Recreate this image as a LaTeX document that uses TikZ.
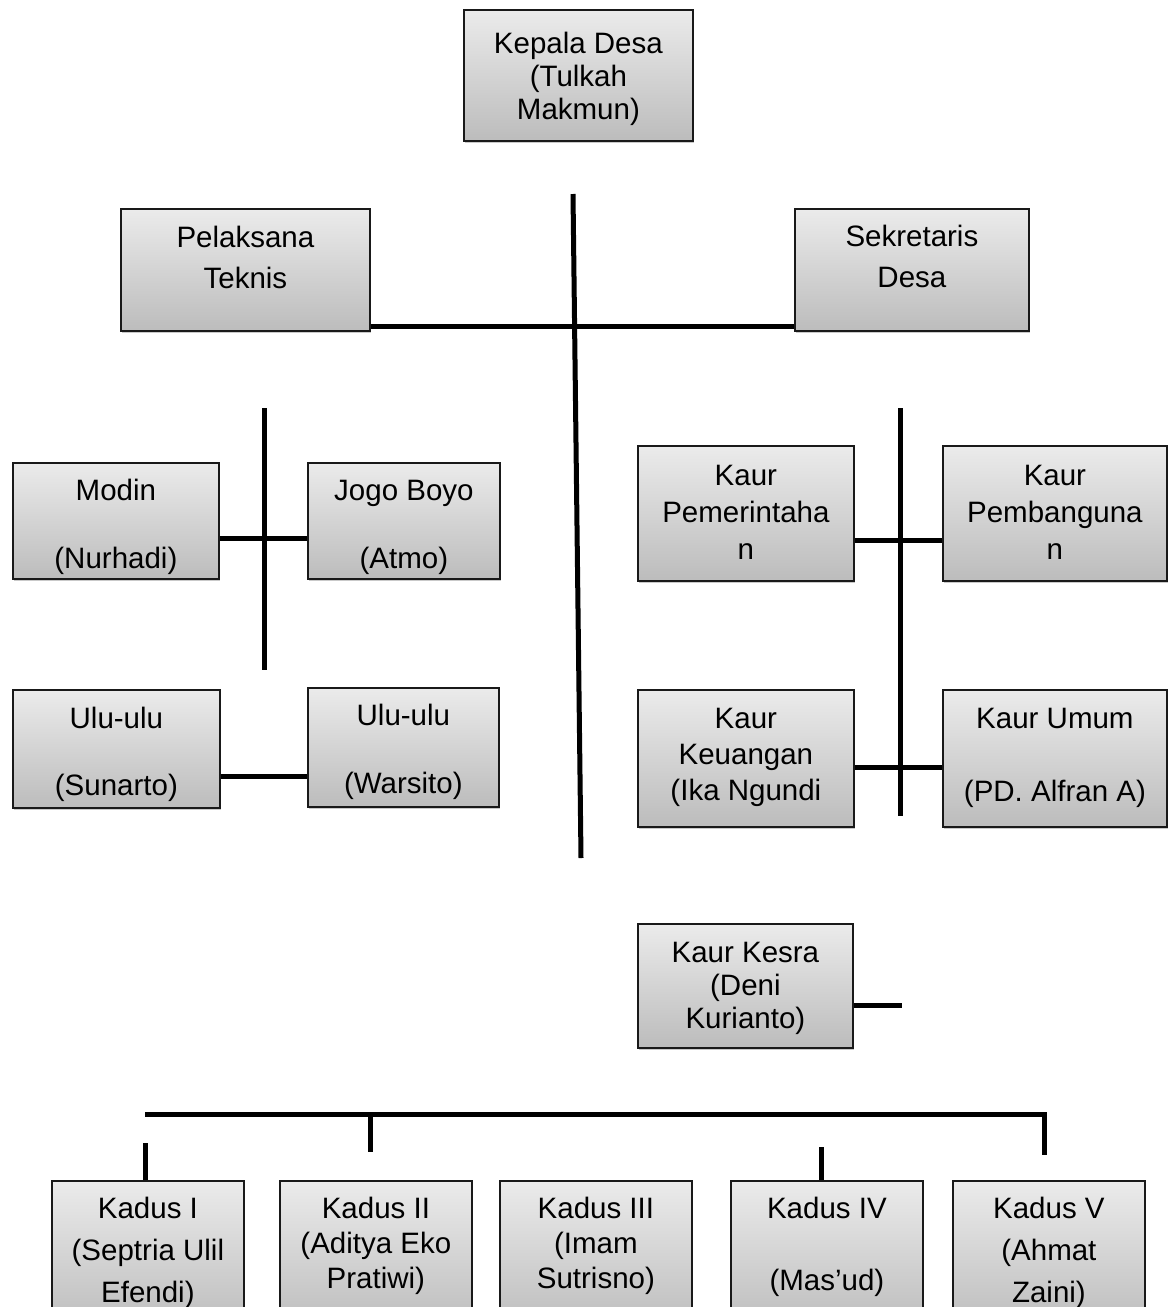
\documentclass[tikz,border=0pt]{standalone}
\usepackage{fontspec}
\setmainfont{Liberation Sans}
\usetikzlibrary{shadows}
\definecolor{boxtop}{HTML}{EBEBEB}
\definecolor{boxbot}{HTML}{BCBCBC}
\tikzset{
  orgbox/.style={draw=black!90, line width=1.8pt, top color=boxtop, bottom color=boxbot,
    anchor=north west, inner sep=0pt,
    drop shadow={shadow xshift=1.5pt, shadow yshift=-2.5pt, opacity=0.35, fill=black!60}},
  conn/.style={line width=5pt, black},
}
\newcommand{\orgtext}[3]{\parbox[t]{#1}{\centering\fontsize{29.5}{#2}\selectfont #3\endgraf}}
% #1 name, #2 x1, #3 y1, #4 x2, #5 y2, #6 first-baseline offset, #7 line skip, #8 text
\newcommand{\orgnode}[8]{%
  \node[orgbox, minimum width={(#4-#2)*1pt}, minimum height={(#5-#3)*1pt},
    path picture={\node[anchor=base, inner sep=0pt, yshift=-#6pt]
      at (path picture bounding box.north)
      {\orgtext{\dimexpr #4pt-#2pt\relax}{#7}{#8}};}]
    (#1) at (#2,#3) {};}
\begin{document}
\begin{tikzpicture}[x=1pt,y=-1pt]
\clip (0,0) rectangle (1173,1307);
\fill[white] (0,0) rectangle (1173,1307);

% connectors behind boxes
\coordinate (vtop) at (573,194);
\coordinate (vbot) at (581,858);
\coordinate (ltop) at (264,408);
\coordinate (lbot) at (264,670);
\coordinate (rtop) at (900,408);
\coordinate (rbot) at (900,816);
\coordinate (kesraend) at (902,1005);
\coordinate (bl) at (145,1114);
\coordinate (b2) at (370,1114);
\coordinate (b2d) at (370,1152);
\coordinate (br) at (1044,1114);
\coordinate (brd) at (1044,1155);

\draw[conn] (vtop) -- (vbot);
\draw[conn] (ltop) -- (lbot);
\draw[conn] (rtop) -- (rbot);

% boxes
\orgnode{kepala}{463}{9}{692}{140}{44}{33}{Kepala Desa\\(Tulkah\\Makmun)}
\orgnode{pel}{120}{208}{369}{330}{39}{41}{Pelaksana\\Teknis}
\orgnode{sek}{794}{208}{1028}{330}{38}{41}{Sekretaris\\Desa}
\orgnode{modin}{12}{462}{218}{578}{38}{34}{Modin\\\mbox{}\\(Nurhadi)}
\orgnode{jogo}{307}{462}{499}{578}{38}{34}{Jogo Boyo\\\mbox{}\\(Atmo)}
\orgnode{ulua}{12}{689}{219}{807}{39}{33.5}{Ulu-ulu\\\mbox{}\\(Sunarto)}
\orgnode{ulub}{307}{687}{498}{806}{38}{34}{Ulu-ulu\\\mbox{}\\(Warsito)}
\orgnode{kpem}{637}{445}{853}{580}{40}{37}{Kaur\\Pemerintaha\\n}
\orgnode{kpemb}{942}{445}{1166}{580}{40}{37}{Kaur\\Pembanguna\\n}
\orgnode{kkeu}{637}{689}{853}{826}{39}{36}{Kaur\\Keuangan\\(Ika Ngundi}
\orgnode{kumum}{942}{689}{1166}{826}{39}{36.5}{Kaur Umum\\\mbox{}\\(PD. Alfran A)}
\orgnode{kesra}{637}{923}{852}{1047}{39}{33}{Kaur Kesra\\(Deni\\Kurianto)}
\orgnode{kda}{51}{1180}{243}{1330}{38}{42}{Kadus I\\(Septria Ulil\\Efendi)}
\orgnode{kdb}{279}{1180}{471}{1330}{38}{35}{Kadus II\\(Aditya Eko\\Pratiwi)}
\orgnode{kdc}{499}{1180}{691}{1330}{38}{35}{Kadus III\\(Imam\\Sutrisno)}
\orgnode{kdd}{730}{1180}{922}{1330}{38}{36}{Kadus IV\\\mbox{}\\(Mas’ud)}
\orgnode{kde}{952}{1180}{1144}{1330}{38}{42}{Kadus V\\(Ahmat\\Zaini)}

% horizontal connectors
\draw[conn] (pel.east |- 0,326) -- (sek.west |- 0,326);
\draw[conn] (modin.east |- 0,538) -- (jogo.west |- 0,538);
\draw[conn] (ulua.east |- 0,776) -- (ulub.west |- 0,776);
\draw[conn] (kpem.east |- 0,540) -- (kpemb.west |- 0,540);
\draw[conn] (kkeu.east |- 0,767) -- (kumum.west |- 0,767);
\draw[conn] (kesra.east |- 0,1005) -- (kesraend);

% bottom bus
\draw[conn] (bl) -- (br) -- (brd);
\draw[conn] (b2) -- (b2d);
\draw[conn] ([xshift=-2pt]kda.north) -- ([xshift=-2pt,yshift=37pt]kda.north);
\draw[conn] ([xshift=-5pt]kdd.north) -- ([xshift=-5pt,yshift=33pt]kdd.north);
\end{tikzpicture}
\end{document}
